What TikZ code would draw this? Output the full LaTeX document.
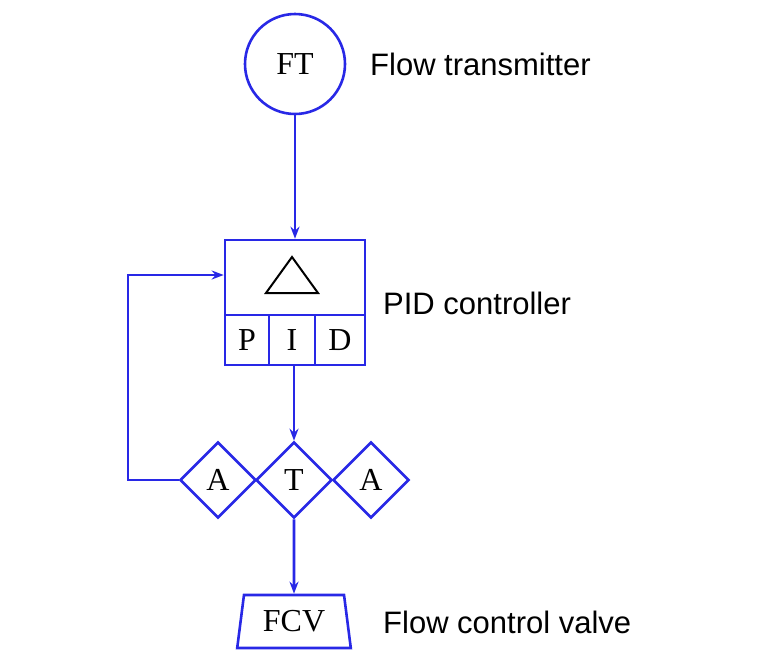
\documentclass[tikz,border=0pt]{standalone}
\usepackage{fontspec}
\setmainfont{Liberation Serif}
\newfontfamily\lsans{Liberation Sans}
\usetikzlibrary{shapes.geometric,arrows.meta}
\definecolor{bl}{RGB}{40,40,230}
\begin{document}
\begin{tikzpicture}[x=1pt,y=-1pt,
  ln/.style={draw=bl,line width=2.6pt},
  ar/.style={ln,-{Stealth[length=12pt,width=9pt]}},
  lab/.style={font=\lsans\fontsize{31}{36}\selectfont,anchor=west,inner sep=0},
  nt/.style={font=\fontsize{32}{36}\selectfont},
  dia/.style={ln,diamond,minimum width=76pt,minimum height=76pt,inner sep=0,nt}]
\useasboundingbox (0,0) rectangle (769,665);
\node[ln,circle,minimum size=100pt,inner sep=0,nt] (ft) at (295,64) {FT};
\node[lab] (lft) at (370,64) {Flow transmitter};
\node[ln,rectangle,minimum width=140pt,minimum height=75pt,inner sep=0] (box) at (295,277.5) {};
\draw[line width=2pt] (266,293) -- (318,293) -- (292,257) -- cycle;
\node[ln,minimum width=44pt,minimum height=50pt,inner sep=0,nt] (p) at (247,340) {P};
\node[ln,minimum width=46pt,minimum height=50pt,inner sep=0,nt] (i) at (292,340) {I};
\node[ln,minimum width=50pt,minimum height=50pt,inner sep=0,nt] (d) at (340,340) {D};
\node[lab] (lpid) at (383,303) {PID controller};
\node[dia] (a1) at (218,480) {A};
\node[dia] (t) at (294,480) {T};
\node[dia] (a2) at (371,480) {A};
\node[ln,trapezium,trapezium angle=79,minimum width=114pt,minimum height=53pt,inner sep=0,nt,trapezium stretches=true] (fcv) at (294,621.5) {FCV};
\node[lab] (lfcv) at (383,622) {Flow control valve};
\coordinate (c1) at (128,480);
\coordinate (c2) at (128,275);
\draw[ar] (ft.south) -- (box.north);
\draw[ar] (t.north |- i.south) -- (t.north);
\draw[ar] (t.south) -- (fcv.north);
\draw[ar] (a1.west) -- (c1) -- (c2) -- (box.west |- c2);
\end{tikzpicture}
\end{document}
